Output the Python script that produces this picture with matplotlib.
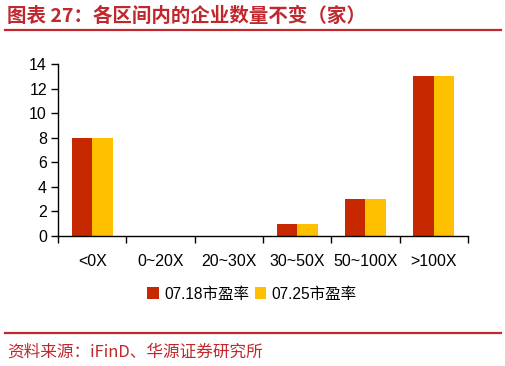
import matplotlib
matplotlib.use("Agg")
import matplotlib.pyplot as plt
import numpy as np
from matplotlib.lines import Line2D

plt.rcParams['font.family'] = ['Liberation Sans', 'Noto Sans CJK SC', 'DejaVu Sans']

categories = ['<0X', '0~20X', '20~30X', '30~50X', '50~100X', '>100X']
s1_name = '07.18市盈率'
s2_name = '07.25市盈率'
s1 = [8, 0, 0, 1, 3, 13]
s2 = [8, 0, 0, 1, 3, 13]
yticks = [0, 2, 4, 6, 8, 10, 12, 14]
title = '图表 27：各区间内的企业数量不变（家）'
source = '资料来源：iFinD、华源证券研究所'

W, H = 506, 366
fig = plt.figure(figsize=(W/100, H/100), dpi=100)
ax = fig.add_axes([58/W, 1-236/H, (468-58)/W, (236-64)/H])

x = np.arange(len(categories))
bw = 0.3
ax.bar(x - bw/2, s1, bw, color='#C82800', label=s1_name)
ax.bar(x + bw/2, s2, bw, color='#FFC000', label=s2_name)

ax.set_xlim(-0.5, len(categories) - 0.5)
ax.set_ylim(0, 14)
ax.set_yticks(yticks)
ax.set_xticks(np.arange(len(categories)+1) - 0.5, minor=False)
ax.set_xticklabels([])
ax.set_xticks(x, minor=True)
ax.set_xticklabels(categories, minor=True)
ax.tick_params(axis='x', which='minor', length=0, pad=13, labelsize=11.5)
ax.tick_params(axis='x', which='major', length=5, direction='out', width=1)
ax.tick_params(axis='y', length=5, direction='out', width=1, labelsize=11.5, pad=3)
for s in ['top', 'right']:
    ax.spines[s].set_visible(False)
ax.spines['left'].set_linewidth(1)
ax.spines['bottom'].set_linewidth(1)

ax.legend(loc='center', bbox_to_anchor=((252-58)/(468-58), (236-294)/(236-64)), ncol=2, frameon=False,
          handlelength=0.75, handleheight=0.75, handletextpad=0.35, columnspacing=0.35,
          fontsize=11.2, borderaxespad=0)

red = '#C0282D'
fig.text(7/W, 1-16/H, title, color=red, fontsize=14, fontweight='bold',
         va='center', ha='left', family=['Noto Sans CJK SC', 'DejaVu Sans'])
fig.add_artist(Line2D([5/W, 501/W], [1-30/H, 1-30/H], color=red, lw=1.6))
fig.add_artist(Line2D([5/W, 501/W], [1-333/H, 1-333/H], color=red, lw=1.6))
fig.text(7/W, 1-352/H, source, color=red, fontsize=12,
         va='center', ha='left', family=['Noto Sans CJK SC', 'DejaVu Sans'])

fig.savefig('out.png', dpi=100)
